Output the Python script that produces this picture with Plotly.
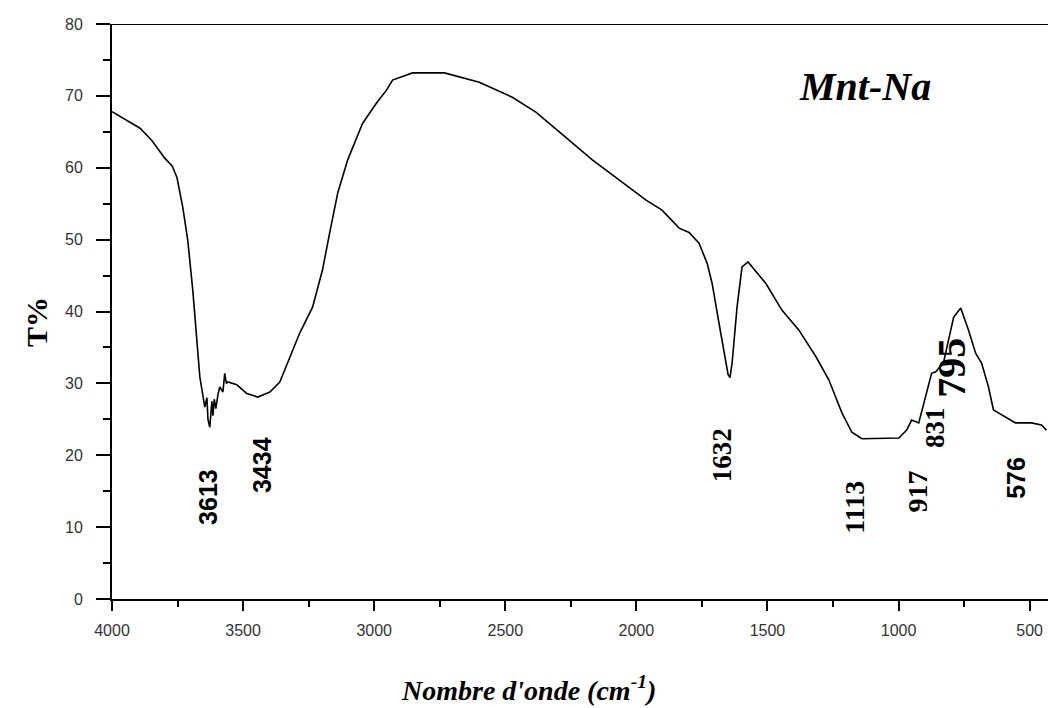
import plotly.graph_objects as go

# FTIR spectrum of Mnt-Na
wavenumber = [4000, 3893, 3848, 3798, 3770, 3752, 3730, 3711, 3692, 3676, 3665,
              3646, 3638, 3634, 3627, 3619, 3615, 3610, 3604, 3596, 3589, 3577, 3570, 3564, 3558,
              3524, 3486, 3444, 3398, 3360, 3322, 3284, 3235, 3197, 3170,
              3139, 3101, 3044, 2991, 2953, 2930, 2854, 2732, 2599, 2473,
              2382, 2294, 2168, 2066, 1963, 1902, 1837, 1799, 1761, 1730,
              1711, 1685, 1658, 1650, 1643, 1635, 1616, 1597, 1574, 1506,
              1445, 1380, 1315, 1266, 1216, 1178, 1140, 1075, 999, 969,
              950, 923, 904, 874, 858, 828, 790, 763, 733, 706,
              683, 657, 638, 592, 554, 493, 455, 436]
transmittance = [67.8, 65.5, 63.8, 61.3, 60.2, 58.6, 54.5, 49.9, 43.0, 35.6, 30.9,
                 26.7, 28.0, 25.0, 23.9, 27.5, 25.5, 27.8, 26.5, 28.4, 29.5, 28.8, 31.4, 30.0, 30.2,
                 29.8, 28.6, 28.1, 28.8, 30.2, 33.7, 37.0, 40.6, 45.8, 50.9,
                 56.5, 61.1, 66.2, 69.0, 70.8, 72.2, 73.2, 73.2, 71.9, 69.8,
                 67.7, 65.0, 61.1, 58.3, 55.5, 54.1, 51.6, 51.0, 49.5, 46.7,
                 43.9, 38.4, 33.2, 31.2, 30.8, 32.8, 40.6, 46.2, 46.9, 43.9,
                 40.2, 37.4, 33.7, 30.5, 25.9, 23.2, 22.3, 22.3, 22.4, 23.5,
                 24.9, 24.5, 27.3, 31.4, 31.6, 33.0, 39.2, 40.5, 37.4, 34.2,
                 32.8, 29.5, 26.3, 25.3, 24.5, 24.5, 24.2, 23.5]

x_ticks = [4000, 3500, 3000, 2500, 2000, 1500, 1000, 500]
y_ticks = [0, 10, 20, 30, 40, 50, 60, 70, 80]

peak_labels = ["3613", "3434", "1632", "1113", "917", "831", "795", "576"]

fig = go.Figure()
fig.add_trace(go.Scatter(x=wavenumber, y=transmittance, mode="lines",
                         line=dict(color="black", width=1.6), showlegend=False))

# label placement (position, font)
label_pos = [(3634, 14.2), (3425, 18.6), (1673, 20.0), (1171, 12.8),
             (927, 14.9), (862, 23.9), (798, 32.1), (550, 16.8)]
label_font = [("Liberation Sans", 25, "bold"), ("Liberation Sans", 25, "bold"),
              ("Liberation Serif", 27, "bold"), ("Liberation Serif", 28, "bold"),
              ("Liberation Serif", 28, "bold"), ("Liberation Serif", 27, "bold"),
              ("Liberation Serif", 40, "bold"), ("Liberation Sans", 25, "bold")]
annotations = []
for t, (px, py), (fam, sz, wt) in zip(peak_labels, label_pos, label_font):
    annotations.append(dict(x=px, y=py, xref="x", yref="y", text=t,
                            textangle=-90, showarrow=False,
                            xanchor="center", yanchor="middle",
                            font=dict(family=fam, size=sz, color="black", weight=wt)))

annotations.append(dict(x=(865 - 112) / 936, y=1 - (87 - 24) / 575, xref="paper", yref="paper",
                        xanchor="center", yanchor="middle",
                        text="<b><i>Mnt-Na</i></b>", showarrow=False,
                        font=dict(family="Liberation Serif", size=40, color="black")))
annotations.append(dict(x=-(112 - 36) / 936, y=1 - (322 - 24) / 575, xref="paper", yref="paper",
                        xanchor="center", yanchor="middle",
                        text="<b>T%</b>", textangle=-90, showarrow=False,
                        font=dict(family="Liberation Serif", size=30, color="black")))
annotations.append(dict(x=(528 - 112) / 936, y=-(688 - 599) / 575, xref="paper", yref="paper",
                        xanchor="center", yanchor="middle",
                        text="<b><i>Nombre d'onde (cm<sup>-1</sup>)</i></b>", showarrow=False,
                        font=dict(family="Liberation Serif", size=28, color="black")))

fig.update_layout(
    width=1048, height=708,
    margin=dict(l=112, r=0, t=24, b=109),
    paper_bgcolor="white", plot_bgcolor="white",
    annotations=annotations,
    shapes=[dict(type="line", xref="paper", yref="y", x0=-14 / 936, x1=1, y0=80, y1=80,
                 line=dict(color="black", width=2))],
)
fig.update_xaxes(range=[4000, 430], tickvals=x_ticks, ticks="outside", ticklen=10,
                 tickwidth=1.5, tickcolor="black", showline=True, linecolor="black",
                 linewidth=2, showgrid=False, zeroline=False,
                 minor=dict(dtick=250, tick0=0, ticks="outside", ticklen=6, tickwidth=1.5,
                            tickcolor="black", showgrid=False),
                 tickfont=dict(family="Liberation Sans", size=16, color="#333"),
                 ticklabelstandoff=6)
fig.update_yaxes(range=[0, 80], tickvals=y_ticks, ticks="outside", ticklen=14,
                 tickwidth=1.5, tickcolor="black", showline=True, linecolor="black",
                 linewidth=2, showgrid=False, zeroline=False,
                 minor=dict(dtick=5, tick0=0, ticks="outside", ticklen=7, tickwidth=1.5,
                            tickcolor="black", showgrid=False),
                 tickfont=dict(family="Liberation Sans", size=16, color="#333"),
                 ticklabelstandoff=10)

fig.write_html("out.html")
